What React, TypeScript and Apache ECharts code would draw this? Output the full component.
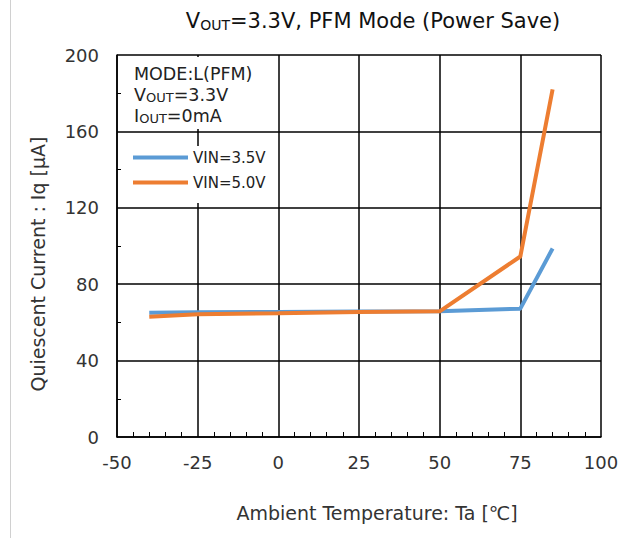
import React, { useEffect, useRef } from "react";
import * as echarts from "echarts";

const temps = [-40, -25, 0, 25, 50, 75, 85];
const vin35 = [65, 65.3, 65.5, 65.7, 65.8, 67.2, 98.7];
const vin50 = [63, 64.3, 64.8, 65.5, 65.8, 94.5, 182];
const seriesNames = ["VIN=3.5V", "VIN=5.0V"];
const seriesColors = ["#5B9BD5", "#ED7D31"];
const xTicks = { min: -50, max: 100, interval: 25 };
const yTicks = { min: 0, max: 200, interval: 40 };

const FONT = "DejaVu Sans";

export default function App() {
  const ref = useRef<HTMLDivElement>(null);
  useEffect(() => {
    if (!ref.current) return;
    const chart = echarts.init(ref.current, undefined, { renderer: "svg" });
    const mk = (vals: number[]) => temps.map((t, i) => [t, vals[i]]);
    chart.setOption({
      animation: false,
      backgroundColor: "#fff",
      textStyle: { fontFamily: FONT },
      grid: { left: 117, right: 31, top: 55, bottom: 101, containLabel: false },
      legend: {
        orient: "vertical",
        left: 128,
        top: 144,
        z: 6,
        itemWidth: 55,
        itemHeight: 4,
        itemGap: 8,
        icon: "rect",
        data: seriesNames,
        textStyle: { fontSize: 15, color: "#222", fontFamily: FONT, lineHeight: 17 },
      },
      xAxis: {
        type: "value",
        min: xTicks.min,
        max: xTicks.max,
        interval: xTicks.interval,
        axisLine: { show: true, onZero: false, lineStyle: { color: "#000", width: 1.5 } },
        axisTick: { show: false },
        minorTick: { show: true, splitNumber: 5, length: -5, lineStyle: { color: "#000", width: 1 } },
        splitLine: { show: true, lineStyle: { color: "#000", width: 1.5 } },
        axisLabel: { fontSize: 18, color: "#333", margin: 16, fontFamily: FONT },
      },
      yAxis: {
        type: "value",
        min: yTicks.min,
        max: yTicks.max,
        interval: yTicks.interval,
        axisLine: { show: true, onZero: false, lineStyle: { color: "#000", width: 1.5 } },
        axisTick: { show: false },
        minorTick: { show: true, splitNumber: 2, length: -4, lineStyle: { color: "#000", width: 1 } },
        splitLine: { show: true, lineStyle: { color: "#000", width: 1.5 } },
        axisLabel: { fontSize: 18, color: "#333", margin: 18, fontFamily: FONT },
      },
      series: [
        {
          name: seriesNames[0],
          type: "line",
          data: mk(vin35),
          symbol: "none",
          color: seriesColors[0],
          lineStyle: { width: 4, color: seriesColors[0] },
        },
        {
          name: seriesNames[1],
          type: "line",
          data: mk(vin50),
          symbol: "none",
          color: seriesColors[1],
          lineStyle: { width: 4, color: seriesColors[1] },
        },
      ],
      graphic: [
        {
          type: "line",
          shape: { x1: 10.5, y1: 0, x2: 10.5, y2: 538 },
          style: { stroke: "#d0d0d0", lineWidth: 1 },
        },
        {
          type: "rect",
          z: 3,
          shape: { x: 123, y: 57, width: 146, height: 72 },
          style: { fill: "#fff" },
        },
        {
          type: "rect",
          z: 3,
          shape: { x: 123, y: 146, width: 150, height: 57 },
          style: { fill: "#fff" },
        },
        {
          type: "text",
          x: 373,
          y: 21,
          style: {
            text: "{a|V}{s|OUT}{a|=3.3V, PFM Mode (Power Save)}",
            align: "center",
            verticalAlign: "middle",
            rich: {
              a: { fontSize: 21, fontFamily: FONT, fill: "#111" },
              s: { fontSize: 14, fontFamily: FONT, fill: "#111", padding: [7, 0, 0, 0] },
            },
          },
        },
        {
          type: "text",
          z: 10,
          x: 134,
          y: 63,
          style: {
            text: "{a|MODE:L(PFM)}\n{a|V}{s|OUT}{a|=3.3V}\n{a|I}{s|OUT}{a|=0mA}",
            rich: {
              a: { fontSize: 17.5, fontFamily: FONT, fill: "#222", lineHeight: 21 },
              s: { fontSize: 13, fontFamily: FONT, fill: "#222", lineHeight: 21, padding: [6, 0, 0, 0] },
            },
          },
        },
        {
          type: "text",
          x: 38,
          y: 264,
          rotation: Math.PI / 2,
          style: {
            text: "Quiescent Current : Iq [μA]",
            align: "center",
            verticalAlign: "middle",
            fontSize: 19,
            fontFamily: FONT,
            fill: "#333",
          },
        },
        {
          type: "text",
          x: 377,
          y: 513,
          style: {
            text: "Ambient Temperature: Ta [℃]",
            align: "center",
            verticalAlign: "middle",
            fontSize: 19,
            fontFamily: FONT,
            fill: "#333",
          },
        },
      ],
    });
    return () => chart.dispose();
  }, []);
  return (
    <div
      ref={ref}
      style={{ position: "fixed", left: 0, top: 0, width: 632, height: 538 }}
    />
  );
}
